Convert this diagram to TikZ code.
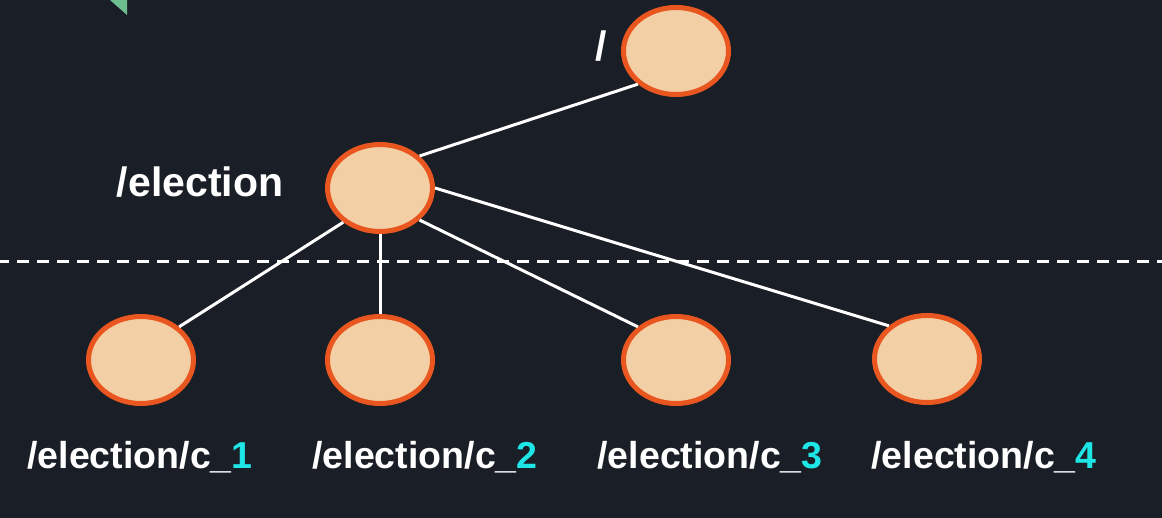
\documentclass[tikz,border=0pt]{standalone}
\usepackage{fontspec}
\setmainfont{Liberation Sans}
\usetikzlibrary{shapes.geometric}
\definecolor{bg}{HTML}{1A1F27}
\definecolor{nodefill}{HTML}{F2CFA4}
\definecolor{nodeedge}{HTML}{E9561F}
\definecolor{accent}{HTML}{1EE6E6}
\definecolor{tri}{HTML}{6DBF8F}
\tikzset{
  znode/.style={ellipse, draw=nodeedge, fill=nodefill, line width=5pt,
    minimum width=105pt, minimum height=87pt, inner sep=0pt},
  lbl/.style={text=white, font=\bfseries\fontsize{37.5}{40}\selectfont, inner sep=0pt, anchor=base},
  biglbl/.style={lbl, font=\bfseries\fontsize{41}{44}\selectfont},
  edge/.style={draw=white, line width=3pt},
  sep/.style={draw=white, line width=3pt, dash pattern=on 12pt off 8pt, dash phase=3pt}
}
\begin{document}
\begin{tikzpicture}[x=1pt,y=-1pt]
\fill[bg] (0,0) rectangle (1162,518);
\useasboundingbox (0,0) rectangle (1162,518);
\fill[tri] (110,0) -- (127,0) -- (127,15) -- cycle;
\coordinate (dl) at (0,262);
\coordinate (dr) at (1162,262);
\draw[sep] (dl) -- (dr);
\node[znode] (root) at (676,51) {};
\node[znode] (el) at (380,188) {};
\node[znode] (c1) at (141,360) {};
\node[znode] (c2) at (380,360) {};
\node[znode] (c3) at (676,360) {};
\node[znode] (c4) at (927,359) {};
\draw[edge] (el.39) -- (root.221);
\draw[edge] (el.-137) -- (c1.41);
\draw[edge] (el.south) -- (c2.north);
\draw[edge] (el.-39) -- (c3.139);
\draw[edge] (el.east) -- (c4.139);
\node[biglbl] (lroot) at (601,61) {/};
\node[biglbl] (lel) at (200,197) {/election};
\node[lbl] (l1) at (140,468) {/election/c\_\textcolor{accent}{1}};
\node[lbl] (l2) at (425,468) {/election/c\_\textcolor{accent}{2}};
\node[lbl] (l3) at (710,468) {/election/c\_\textcolor{accent}{3}};
\node[lbl] (l4) at (984,468) {/election/c\_\textcolor{accent}{4}};
\end{tikzpicture}
\end{document}
